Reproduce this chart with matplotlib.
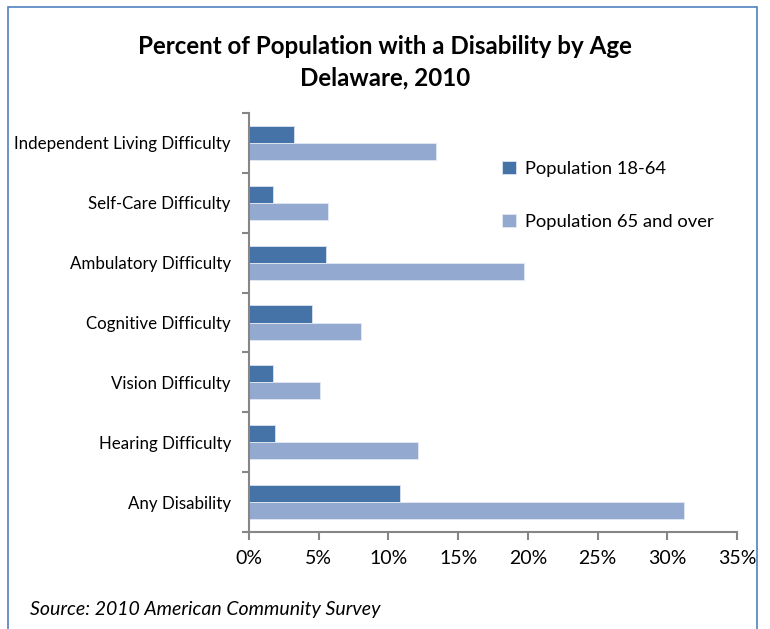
import matplotlib
matplotlib.use("Agg")
import matplotlib.pyplot as plt
import matplotlib.patches as mpatches
import numpy as np

# ACS 2010, Delaware - percent of population with each disability type
categories = ["Any Disability", "Hearing Difficulty", "Vision Difficulty",
              "Cognitive Difficulty", "Ambulatory Difficulty",
              "Self-Care Difficulty", "Independent Living Difficulty"]
pop_18_64 = [10.8, 1.9, 1.7, 4.5, 5.5, 1.7, 3.2]
pop_65_over = [31.2, 12.1, 5.1, 8.0, 19.7, 5.7, 13.4]
x_ticks = [0, 5, 10, 15, 20, 25, 30, 35]

dark = "#4572A7"
light = "#93A9CF"
axis_gray = "#868686"

plt.rcParams["font.family"] = ["Lato", "DejaVu Sans"]

fig = plt.figure(figsize=(7.7, 6.29), dpi=100)
ax = fig.add_axes([249 / 770, 1 - 532 / 629, (737 - 249) / 770, (532 - 113) / 629])

y = np.arange(len(categories))
h = 0.285
ax.barh(y + h / 2, pop_18_64, height=h, color=dark, edgecolor="#DCE3EE",
        linewidth=0.6, label="Population 18-64")
ax.barh(y - h / 2, pop_65_over, height=h, color=light, edgecolor="#E3E9F2",
        linewidth=0.6, label="Population 65 and over")

ax.set_xlim(0, 35)
ax.set_ylim(-0.5, len(categories) - 0.5)
ax.set_xticks(x_ticks)
ax.set_xticklabels([f"{v}%" for v in x_ticks], fontsize=14)
ax.set_yticks(y)
ax.set_yticklabels(categories, fontsize=12.2)
ax.set_yticks(np.arange(len(categories) + 1) - 0.5, minor=True)

for side in ["top", "right"]:
    ax.spines[side].set_visible(False)
for side in ["left", "bottom"]:
    ax.spines[side].set_color(axis_gray)
    ax.spines[side].set_linewidth(1.5)

ax.tick_params(axis="y", which="major", length=0, pad=13)
ax.tick_params(axis="y", which="minor", length=5, width=1.5, color=axis_gray)
ax.tick_params(axis="x", length=6, width=1.5, color=axis_gray, pad=7)

ax.legend(loc="upper left", bbox_to_anchor=(0.485, 0.925), frameon=False,
          fontsize=13.2, handlelength=0.75, handleheight=0.75,
          labelspacing=2.0, handletextpad=0.5)

fig.text(0.5, 1 - 47 / 629, "Percent of Population with a Disability by Age",
         ha="center", va="center", fontsize=17.4, fontweight="bold")
fig.text(0.5, 1 - 78 / 629, "Delaware, 2010",
         ha="center", va="center", fontsize=17.4, fontweight="bold")
fig.text(30 / 770, 1 - 609 / 629, "Source: 2010 American Community Survey",
         ha="left", va="center", fontsize=14, style="italic")

# chart frame
fig.patches.append(mpatches.Rectangle((8 / 770, -0.01), (757 - 8) / 770, 1 - 7 / 629 + 0.01,
                                      transform=fig.transFigure, fill=False,
                                      edgecolor="#4F81BD", linewidth=1.2))

fig.savefig("out.png", dpi=100)
